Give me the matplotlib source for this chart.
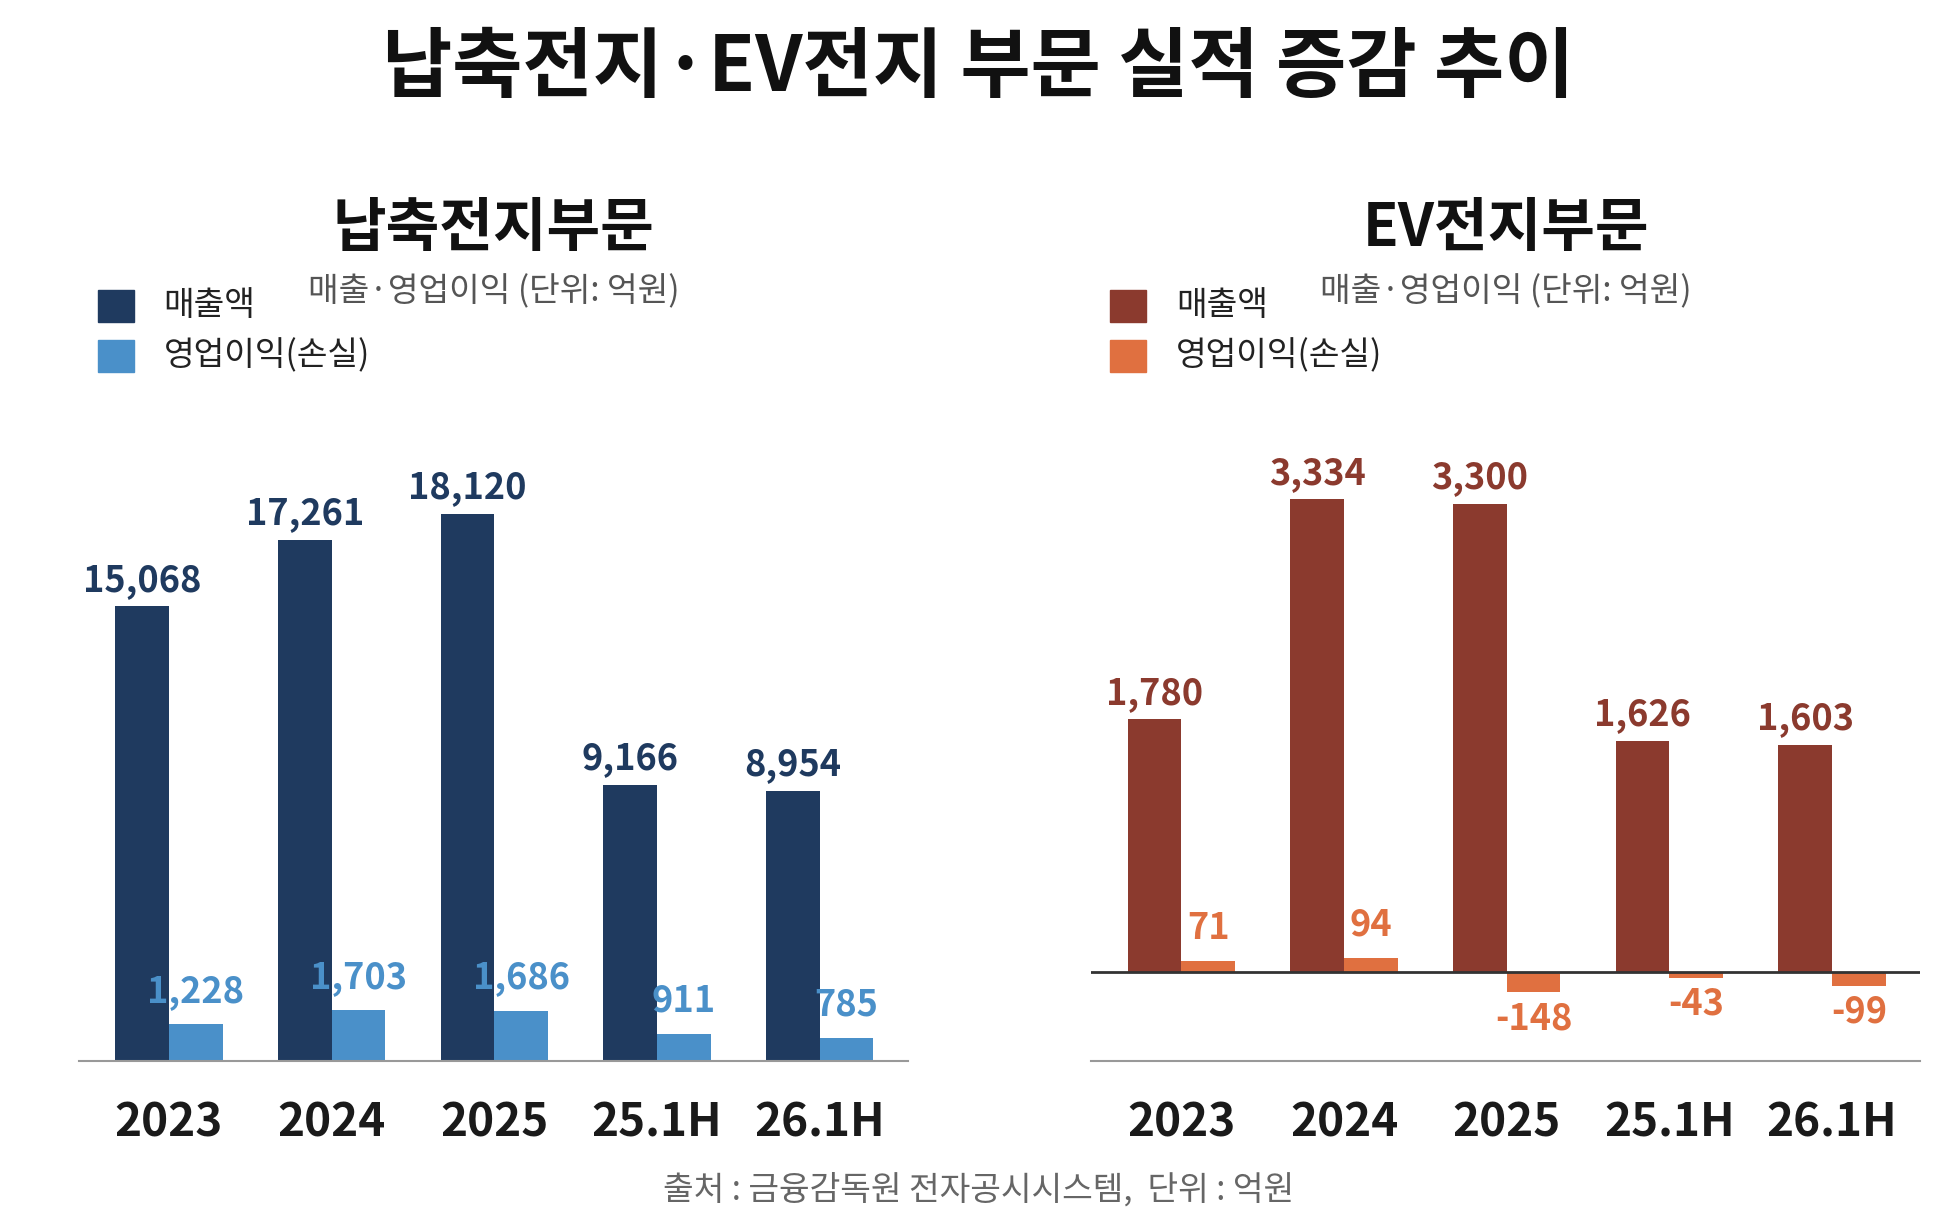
import numpy as np
import matplotlib.pyplot as plt
from matplotlib.patches import Rectangle

plt.rcParams['font.family'] = ['Noto Sans CJK KR', 'DejaVu Sans']

periods = ['2023', '2024', '2025', '25.1H', '26.1H']
lead_sales = [15068, 17261, 18120, 9166, 8954]
lead_op = [1228, 1703, 1686, 911, 785]
ev_sales = [1780, 3334, 3300, 1626, 1603]
ev_op = [71, 94, -148, -43, -99]

W, H = 1560, 985  # layout in reference display pixels
fig = plt.figure(figsize=(19.5, 12.3), dpi=100)


def fx(px):
    return px / W


def fy(py):
    return 1 - py / H


def draw_panel(left, sales, op, c1, c2, ylim, name, zero_line):
    ax = fig.add_axes([fx(left), fy(850), fx(663), (850 - 330) / H])
    x = np.arange(len(periods))
    w = 0.33
    ax.bar(x - w / 2, sales, w, color=c1)
    ax.bar(x + w / 2, op, w, color=c2)
    ax.set_xlim(-0.554, 4.54)
    ax.set_ylim(*ylim)
    span = ylim[1] - ylim[0]
    for i in range(len(x)):
        ax.text(x[i] - w / 2, sales[i] + span * 0.012, f'{sales[i]:,}', ha='center', va='bottom',
                color=c1, fontsize=26, fontweight='bold')
        if op[i] >= 0:
            ax.text(x[i] + w / 2, op[i] + span * 0.022, f'{op[i]:,}', ha='center', va='bottom',
                    color=c2, fontsize=26, fontweight='bold')
        else:
            ax.text(x[i] + w / 2, op[i] - span * 0.012, f'{op[i]:,}', ha='center', va='top',
                    color=c2, fontsize=26, fontweight='bold')
    if zero_line:
        ax.axhline(0, color='#333333', lw=2)
    for s in ['top', 'right', 'left']:
        ax.spines[s].set_visible(False)
    ax.spines['bottom'].set_color('#999999')
    ax.spines['bottom'].set_linewidth(1.5)
    ax.set_yticks([])
    ax.set_xticks(x)
    ax.set_xticklabels(periods, fontsize=33, fontweight='bold', color='#1a1a1a')
    ax.tick_params(axis='x', length=0, pad=28)

    cx = left + 332
    fig.text(fx(cx), fy(183), name, ha='center', va='center', fontsize=42, fontweight='bold', color='#111111')
    fig.text(fx(left + 183), fy(234), '매출·영업이익 (단위: 억원)', ha='left', va='center',
             fontsize=24, color='#555555')
    for j, (lab, c) in enumerate([('매출액', c1), ('영업이익(손실)', c2)]):
        y0 = 232 + j * 40
        fig.patches.append(Rectangle((fx(left + 15), fy(y0 + 26)), fx(29), 26 / H,
                                     transform=fig.transFigure, color=c))
        fig.text(fx(left + 68), fy(y0 + 13), lab, ha='left', va='center', fontsize=24, color='#222222')


draw_panel(63, lead_sales, lead_op, '#1f3a5f', '#4a90c9', (0, 21500), '납축전지부문', False)
draw_panel(873, ev_sales, ev_op, '#8b3a2e', '#e07040', (-635, 3951), 'EV전지부문', True)

fig.text(fx(783), fy(55), '납축전지·EV전지 부문 실적 증감 추이', ha='center', va='center',
         fontsize=55, fontweight='bold', color='#111111')
fig.text(fx(783), fy(953), '출처 : 금융감독원 전자공시시스템,  단위 : 억원', ha='center', va='center',
         fontsize=24, color='#666666')

fig.savefig('out.png', dpi=100, facecolor='white')
